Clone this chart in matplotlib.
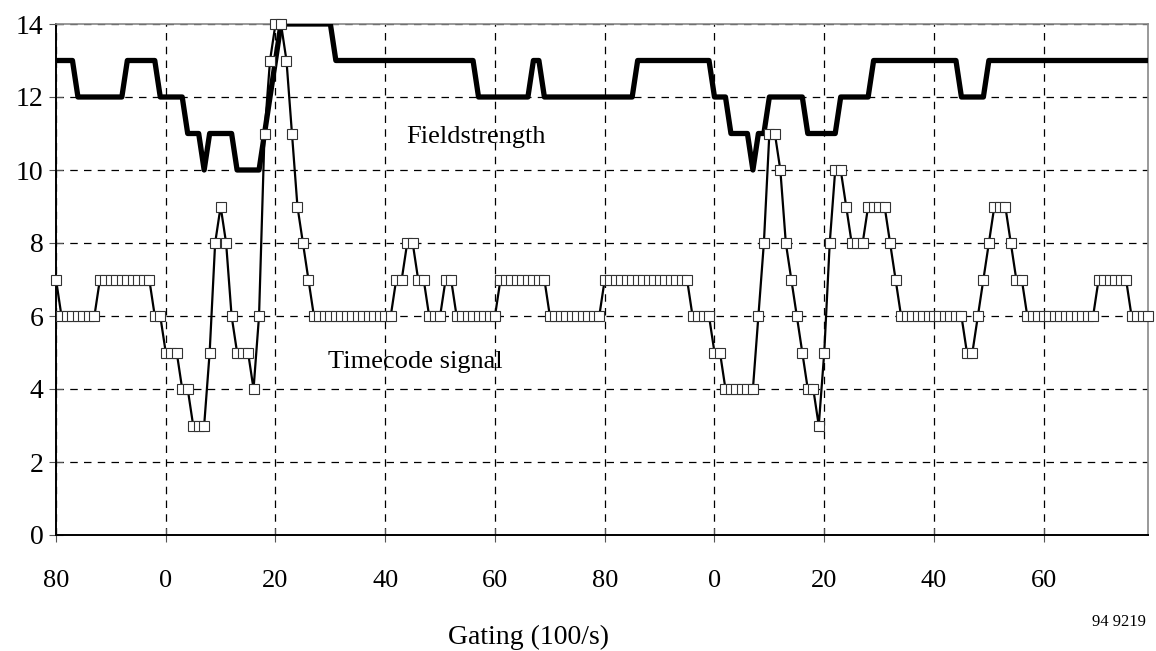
import numpy as np
import matplotlib
matplotlib.use("Agg")
import matplotlib.pyplot as plt

plt.rcParams['font.family'] = ['Liberation Serif', 'DejaVu Serif']

# gating samples (running count, labels wrap every 100)
start = 80
tick_pos = [80, 100, 120, 140, 160, 180, 200, 220, 240, 260]
tick_labels = ['80', '0', '20', '40', '60', '80', '0', '20', '40', '60']

timecode = [
    7, 6, 6, 6, 6, 6, 6, 6, 7, 7, 7, 7, 7, 7, 7, 7, 7, 7, 6, 6,
    5, 5, 5, 4, 4, 3, 3, 3, 5, 8, 9, 8, 6, 5, 5, 5, 4, 6, 11, 13,
    14, 14, 13, 11, 9, 8, 7, 6, 6, 6, 6, 6, 6, 6, 6, 6, 6, 6, 6, 6,
    6, 6, 7, 7, 8, 8, 7, 7, 6, 6, 6, 7, 7, 6, 6, 6, 6, 6, 6, 6,
    6, 7, 7, 7, 7, 7, 7, 7, 7, 7, 6, 6, 6, 6, 6, 6, 6, 6, 6, 6,
    7, 7, 7, 7, 7, 7, 7, 7, 7, 7, 7, 7, 7, 7, 7, 7, 6, 6, 6, 6,
    5, 5, 4, 4, 4, 4, 4, 4, 6, 8, 11, 11, 10, 8, 7, 6, 5, 4, 4, 3,
    5, 8, 10, 10, 9, 8, 8, 8, 9, 9, 9, 9, 8, 7, 6, 6, 6, 6, 6, 6,
    6, 6, 6, 6, 6, 6, 5, 5, 6, 7, 8, 9, 9, 9, 8, 7, 7, 6, 6, 6,
    6, 6, 6, 6, 6, 6, 6, 6, 6, 6, 7, 7, 7, 7, 7, 7, 6, 6, 6, 6,
]

fieldstrength = [
    13, 13, 13, 13, 12, 12, 12, 12, 12, 12, 12, 12, 12, 13, 13, 13, 13, 13, 13, 12,
    12, 12, 12, 12, 11, 11, 11, 10, 11, 11, 11, 11, 11, 10, 10, 10, 10, 10, 11, 12,
    13, 14, 14, 14, 14, 14, 14, 14, 14, 14, 14, 13, 13, 13, 13, 13, 13, 13, 13, 13,
    13, 13, 13, 13, 13, 13, 13, 13, 13, 13, 13, 13, 13, 13, 13, 13, 13, 12, 12, 12,
    12, 12, 12, 12, 12, 12, 12, 13, 13, 12, 12, 12, 12, 12, 12, 12, 12, 12, 12, 12,
    12, 12, 12, 12, 12, 12, 13, 13, 13, 13, 13, 13, 13, 13, 13, 13, 13, 13, 13, 13,
    12, 12, 12, 11, 11, 11, 11, 10, 11, 11, 12, 12, 12, 12, 12, 12, 12, 11, 11, 11,
    11, 11, 11, 12, 12, 12, 12, 12, 12, 13, 13, 13, 13, 13, 13, 13, 13, 13, 13, 13,
    13, 13, 13, 13, 13, 12, 12, 12, 12, 12, 13, 13, 13, 13, 13, 13, 13, 13, 13, 13,
    13, 13, 13, 13, 13, 13, 13, 13, 13, 13, 13, 13, 13, 13, 13, 13, 13, 13, 13, 13,
]

x = np.arange(start, start + len(timecode))

fig = plt.figure(figsize=(11.56, 6.51), dpi=100)
ax = fig.add_axes([56 / 1156, 116 / 651, 1092 / 1156, 511 / 651])

ax.plot(x, fieldstrength, color='black', lw=3.8, solid_joinstyle='round',
        solid_capstyle='round', zorder=3)
ax.plot(x, timecode, color='black', lw=1.6, marker='s', ms=7.8,
        mfc='white', mec='#333333', mew=0.8, zorder=4, clip_on=False)

ax.set_xlim(80, 279)
ax.set_ylim(0, 14)
ax.set_xticks(tick_pos)
ax.set_xticklabels(tick_labels)
ax.set_yticks(range(0, 15, 2))

ax.grid(True, color='black', linestyle=(0, (6, 5)), lw=0.9)
ax.set_axisbelow(True)

for side in ['top', 'right']:
    ax.spines[side].set_color('#888888')
    ax.spines[side].set_linewidth(1.2)
for side in ['left', 'bottom']:
    ax.spines[side].set_color('black')
    ax.spines[side].set_linewidth(1.4)

ax.tick_params(axis='x', direction='inout', length=10, width=0.8,
               color='#555555', labelsize=19, pad=20)
ax.tick_params(axis='y', direction='inout', length=10, width=0.8,
               color='#555555', labelsize=20, pad=4)

ax.text(143.9, 10.75, 'Fieldstrength', fontsize=19, va='baseline',
        ha='left', zorder=5)
ax.text(129.6, 4.57, 'Timecode signal', fontsize=19, va='baseline',
        ha='left', zorder=5)

fig.text(528 / 1156, 1 - 637 / 651, 'Gating (100/s)', fontsize=20,
         ha='center', va='center')
fig.text(1146 / 1156, 1 - 622 / 651, '94 9219', fontsize=12,
         ha='right', va='center')

fig.savefig('out.png', dpi=100)
